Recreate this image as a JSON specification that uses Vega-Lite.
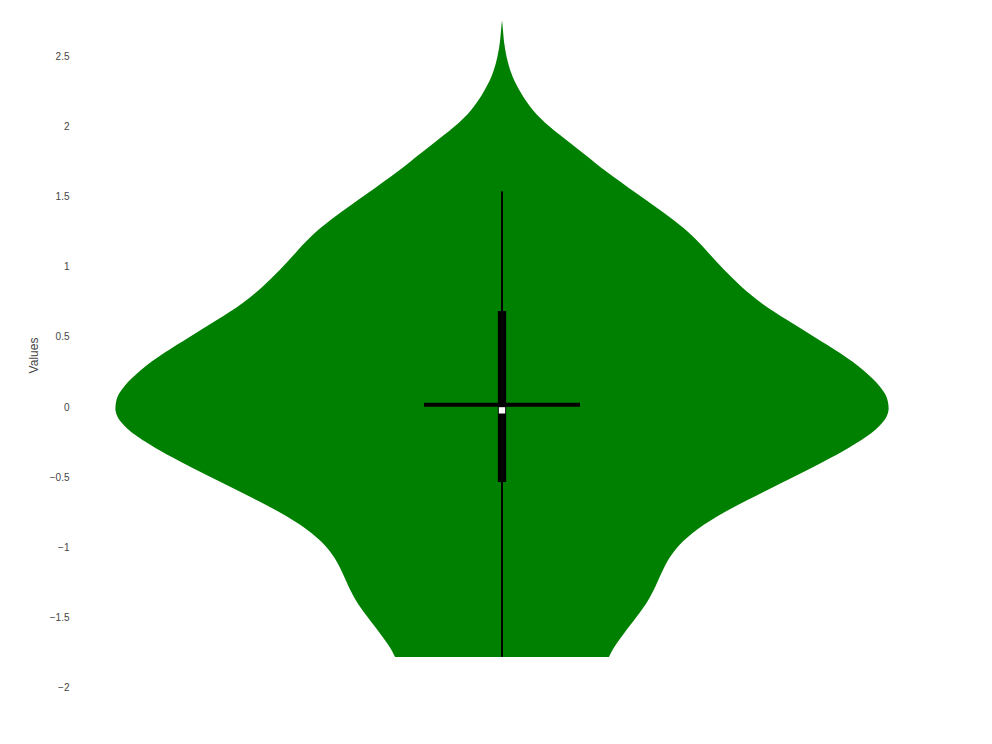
{
  "$schema": "https://vega.github.io/schema/vega-lite/v6.json",
  "width": 844,
  "height": 716,
  "autosize": {"type": "none"},
  "padding": {"left": 80, "top": 7, "right": 68, "bottom": 21},
  "background": "white",
  "config": {
    "view": {"stroke": null},
    "font": "Liberation Sans"
  },
  "datasets": {
    "kde": [
      {"value": 2.756, "density": 0},
      {"value": 2.685, "density": 0.0013},
      {"value": 2.590, "density": 0.0026},
      {"value": 2.472, "density": 0.0065},
      {"value": 2.353, "density": 0.0129},
      {"value": 2.234, "density": 0.0245},
      {"value": 2.115, "density": 0.0388},
      {"value": 1.997, "density": 0.0607},
      {"value": 1.878, "density": 0.0891},
      {"value": 1.759, "density": 0.1163},
      {"value": 1.688, "density": 0.1318},
      {"value": 1.629, "density": 0.1473},
      {"value": 1.569, "density": 0.1615},
      {"value": 1.451, "density": 0.1925},
      {"value": 1.332, "density": 0.2222},
      {"value": 1.213, "density": 0.2481},
      {"value": 1.095, "density": 0.2674},
      {"value": 0.976, "density": 0.2868},
      {"value": 0.857, "density": 0.3088},
      {"value": 0.739, "density": 0.3346},
      {"value": 0.620, "density": 0.3682},
      {"value": 0.501, "density": 0.4031},
      {"value": 0.383, "density": 0.4380},
      {"value": 0.264, "density": 0.4677},
      {"value": 0.145, "density": 0.4897},
      {"value": 0.074, "density": 0.4974},
      {"value": 0.027, "density": 0.4990},
      {"value": -0.021, "density": 0.5},
      {"value": -0.069, "density": 0.4974},
      {"value": -0.116, "density": 0.4910},
      {"value": -0.187, "density": 0.4780},
      {"value": -0.305, "density": 0.4444},
      {"value": -0.424, "density": 0.4031},
      {"value": -0.543, "density": 0.3605},
      {"value": -0.661, "density": 0.3165},
      {"value": -0.780, "density": 0.2765},
      {"value": -0.899, "density": 0.2442},
      {"value": -1.018, "density": 0.2222},
      {"value": -1.136, "density": 0.2093},
      {"value": -1.255, "density": 0.2003},
      {"value": -1.374, "density": 0.1899},
      {"value": -1.492, "density": 0.1744},
      {"value": -1.611, "density": 0.1576},
      {"value": -1.707, "density": 0.1447},
      {"value": -1.779, "density": 0.1382}
    ],
    "stats": [
      {"min": -1.779, "q1": -0.533, "median": -0.023, "mean": 0.017, "q3": 0.684, "upper": 1.538}
    ]
  },
  "layer": [
    {
      "data": {"name": "kde"},
      "mark": {"type": "area", "orient": "horizontal", "interpolate": "basis", "color": "#008000", "opacity": 1},
      "encoding": {
        "y": {"field": "value", "type": "quantitative", "title": "Values", "sort": null,
              "scale": {"domain": [-2.25, 2.85], "nice": false, "zero": false},
              "axis": {
                "domain": false, "ticks": false, "tickSize": 0, "grid": false,
                "labelPadding": 11, "labelFontSize": 10, "labelColor": "#444",
                "labelFont": "Liberation Sans", "titleFont": "Liberation Sans",
                "titleFontSize": 12, "titleFontWeight": "normal", "titleColor": "#444",
                "titleX": -40, "titleY": 348, "titleAngle": -90,
                "values": [-2, -1.5, -1, -0.5, 0, 0.5, 1, 1.5, 2, 2.5],
                "format": "~g"
              }},
        "x": {"field": "density", "type": "quantitative", "stack": "center", "axis": null,
              "scale": {"domain": [-0.0226, 0.5226], "nice": false, "zero": false}}
      }
    },
    {
      "data": {"name": "stats"},
      "mark": {"type": "rule", "color": "black", "strokeWidth": 2},
      "encoding": {
        "y": {"field": "min", "type": "quantitative", "title": "Values"},
        "y2": {"field": "upper"}
      }
    },
    {
      "data": {"name": "stats"},
      "mark": {"type": "rule", "color": "black", "strokeWidth": 8.3, "strokeCap": "butt"},
      "encoding": {
        "y": {"field": "q1", "type": "quantitative", "title": "Values"},
        "y2": {"field": "q3"}
      }
    },
    {
      "data": {"name": "stats"},
      "mark": {"type": "tick", "color": "black", "size": 156, "thickness": 4, "orient": "horizontal", "opacity": 1},
      "encoding": {
        "y": {"field": "mean", "type": "quantitative", "title": "Values"}
      }
    },
    {
      "data": {"name": "stats"},
      "mark": {"type": "square", "color": "white", "filled": true, "opacity": 1, "size": 40},
      "encoding": {
        "y": {"field": "median", "type": "quantitative", "title": "Values"}
      }
    }
  ]
}
